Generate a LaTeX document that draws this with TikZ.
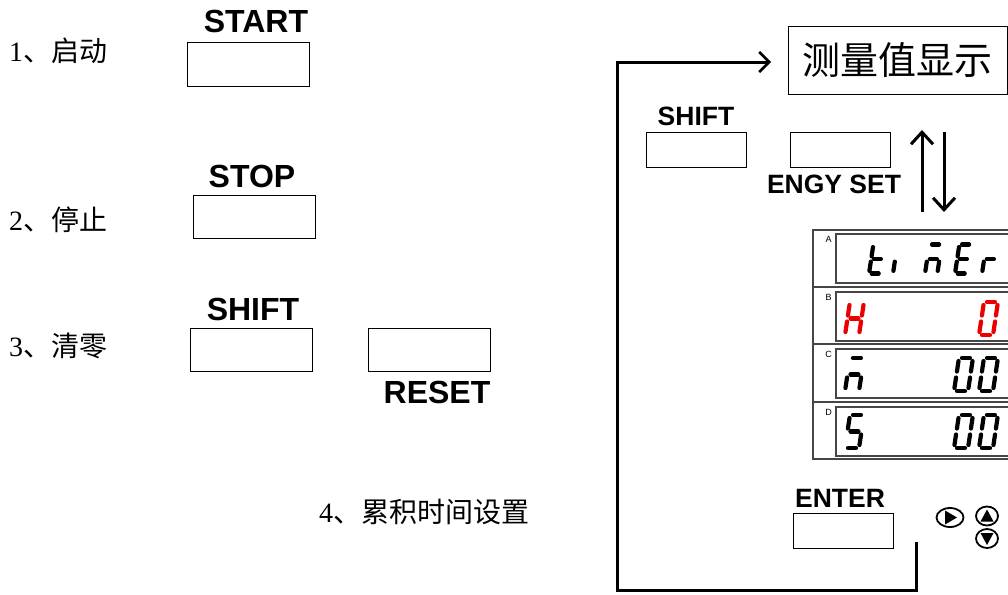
\documentclass[tikz,border=0pt]{standalone}
\usepackage{fontspec}
\setmainfont{Liberation Serif}
\setsansfont{Liberation Sans}
\newfontfamily\cjk{Noto Sans CJK SC}
\usetikzlibrary{arrows.meta,shapes.geometric}
\definecolor{lcdred}{RGB}{235,0,0}
\definecolor{panelgray}{RGB}{70,70,70}
\tikzset{
  keybox/.style={draw, line width=1pt, minimum width=122pt, minimum height=43pt, inner sep=0pt},
  smallkey/.style={keybox, minimum width=100pt, minimum height=35pt},
  keyname/.style={font=\sffamily\bfseries\fontsize{32}{32}\selectfont, anchor=base, inner sep=0pt},
  smallname/.style={keyname, font=\sffamily\bfseries\fontsize{26.5}{26.5}\selectfont},
  steptext/.style={font=\fontsize{28}{28}\selectfont, anchor=base west, inner sep=0pt},
  flow/.style={line width=3pt, -{Straight Barb[length=10pt,width=20pt,line width=2.6pt]}},
  updown/.style={line width=3pt, -{Straight Barb[length=12pt,width=22pt,line width=3pt]}},
  panel/.style={draw=panelgray, line width=1.3pt},
  lcdframe/.style={draw=panelgray, line width=2pt},
  lcdseg/.style={line width=4.2pt, line cap=round},
  arrowkey/.style={draw, ellipse, line width=1.8pt, minimum width=22pt, minimum height=19pt, inner sep=0pt},
}
% seven segment pieces (baseline at 0, y grows downwards)
\def\sga{(3,-33)--(11,-33)}
\def\sgb{(14,-30)--(14,-19.5)}
\def\sgc{(14,-13.5)--(14,-3)}
\def\sgd{(3,0)--(11,0)}
\def\sge{(0,-13.5)--(0,-3)}
\def\sgf{(0,-30)--(0,-19.5)}
\def\sgg{(3,-16.5)--(11,-16.5)}
\newcommand\lcddigit[5][1]{%
  \begin{scope}[shift={(#2,#3)}, scale=#1, xslant=0.15]
    \foreach \s in {#4} {\draw[lcdseg,#5] \csname sg\s\endcsname;}
  \end{scope}}

\begin{document}
\begin{tikzpicture}[x=1pt,y=-1pt]
  \useasboundingbox (0,0) rectangle (1008,594);
  \clip (0,0) rectangle (1008,594);
  % left column: key operations
  \node[steptext] (s1) at (9,62) {1\cjk 、启动};
  \node[keybox] (start) at (248,64.5) {};
  \node[keyname] (startname) at (256,33) {START};
  \node[steptext] (s2) at (9,230) {2\cjk 、停止};
  \node[keybox] (stop) at (254.5,217) {};
  \node[keyname] (stopname) at (252,187) {STOP};
  \node[steptext] (s3) at (9,356) {3\cjk 、清零};
  \node[keybox] (shiftl) at (251.5,350) {};
  \node[keyname] (shiftlname) at (253,320) {SHIFT};
  \node[keybox] (reset) at (429,350) {};
  \node[keyname] (resetname) at (437,403) {RESET};
  \node[steptext] (s4) at (319,522) {4\cjk 、累积时间设置};

  % right column: timer setting
  \node[draw, line width=1pt, minimum width=219pt, minimum height=67pt,
        font=\cjk\fontsize{38}{38}\selectfont] (meas) at (897.5,60.5) {测量值显示};
  \node[smallkey] (shiftr) at (696,149.5) {};
  \node[smallname] (shiftrname) at (696,125) {SHIFT};
  \node[smallkey] (engy) at (840,149.5) {};
  \node[smallname] (engyname) at (834,193) {ENGY SET};
  \node[smallkey] (enter) at (843,531) {};
  \node[smallname] (entername) at (840,507) {ENTER};

  \coordinate (upfoot) at (922,212);
  \coordinate (uphead) at (922,130);
  \coordinate (dnfoot) at (944,132);
  \coordinate (dnhead) at (944,212);
  \draw[updown] (upfoot) -- (uphead);
  \draw[updown] (dnfoot) -- (dnhead);

  \coordinate (loopstart) at (916,542);
  \coordinate (loopcorner) at (617,590);
  \coordinate (looptip) at (771,62);
  \draw[flow] (loopstart) |- (loopcorner) |- (looptip);

  % display panel
  \draw[panel] (813,230) rectangle (1015,459);
  \foreach \y in {287,344,402} \draw[panel] (813,\y) -- (1015,\y);
  \foreach \t/\l in {234/A,292/B,349/C,407/D} {
    \draw[lcdframe] (836,\t) rectangle (1015,\t+48.5);
    \node[font=\sffamily\fontsize{9}{9}\selectfont, inner sep=0pt] (lcd\l) at (828.5,\t+5.5) {\l};
  }
  \lcddigit[0.88]{869}{273.5}{f,e,d,g}{black}
  \lcddigit[0.88]{893}{273.5}{e}{black}
  \lcddigit[0.88]{925}{273.5}{a,g,e,c}{black}
  \lcddigit[0.88]{955}{273.5}{a,f,g,e,d}{black}
  \lcddigit[0.88]{982}{273.5}{e,g}{black}
  \lcddigit{845}{335}{b,c,e,f,g}{lcdred}
  \lcddigit{979}{335}{a,b,c,d,e,f}{lcdred}
  \lcddigit{845}{391}{a,g,e,c}{black}
  \lcddigit{845}{448}{a,f,g,c,d}{black}
  \foreach \y in {391,448} {
    \lcddigit{954}{\y}{a,b,c,d,e,f}{black}
    \lcddigit{979}{\y}{a,b,c,d,e,f}{black}
  }

  % arrow keys
  \node[arrowkey, minimum width=27pt] (rightkey) at (950,517.5) {};
  \fill (rightkey.center) ++(-5,-7) -- ++(12,7) -- ++(-12,7) -- cycle;
  \node[arrowkey] (upkey) at (987,516) {};
  \fill (upkey.center) ++(-6.5,5.5) -- ++(6.5,-12) -- ++(6.5,12) -- cycle;
  \node[arrowkey] (downkey) at (987,538.5) {};
  \fill (downkey.center) ++(-6.5,-5.5) -- ++(13,0) -- ++(-6.5,12) -- cycle;
\end{tikzpicture}
\end{document}
